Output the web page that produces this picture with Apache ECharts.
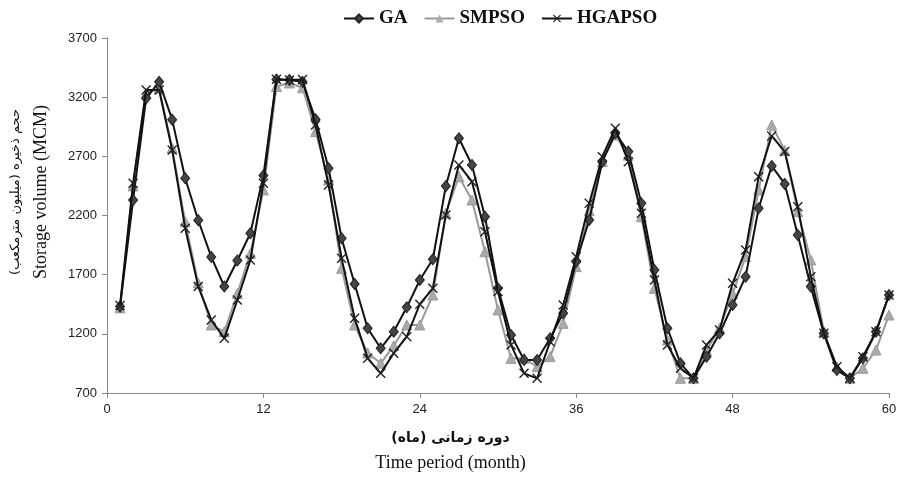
<!DOCTYPE html>
<html><head><meta charset="utf-8">
<script src="https://cdn.jsdelivr.net/npm/echarts@6/dist/echarts.min.js"></script>
<style>html,body{margin:0;padding:0;background:#fff}#c{width:901px;height:479px}</style>
</head><body><div id="c"></div>
<script>
const months = Array.from({length:60},(_,i)=>i+1);
const ga = [1430,2330,3190,3330,3010,2515,2160,1850,1600,1820,2050,2537,3350,3346,3330,3013,2600,2008,1621,1247,1078,1218,1424,1655,1830,2450,2853,2627,2190,1585,1190,979,979,1162,1374,1810,2162,2655,2895,2740,2303,1740,1247,951,824,1007,1204,1444,1683,2261,2619,2467,2036,1599,1204,894,824,993,1218,1528];
const smpso = [1420,2450,3230,3276,2770,2148,1630,1275,1218,1540,1880,2416,3290,3320,3280,2909,2500,1754,1275,1038,951,1100,1275,1275,1528,2220,2528,2331,1894,1402,993,993,922,1007,1289,1768,2240,2655,2880,2710,2190,1585,1148,824,824,1060,1247,1540,1852,2416,2965,2750,2233,1824,1218,922,824,909,1063,1359];
const hgapso = [1440,2472,3261,3260,2754,2092,1599,1317,1162,1486,1824,2472,3352,3346,3350,2965,2458,1839,1331,993,866,1036,1176,1450,1585,2205,2627,2486,2063,1557,1106,866,824,1134,1444,1852,2303,2697,2937,2655,2219,1655,1106,909,824,1106,1233,1627,1909,2528,2872,2740,2275,1683,1204,922,824,1007,1218,1528];
const seriesNames = ['GA','SMPSO','HGAPSO'];
const xTicks = [0,12,24,36,48,60];
const yTicks = [700,1200,1700,2200,2700,3200,3700];

const cross = 'path://M0,1L1,0L5,4L9,0L10,1L6,5L10,9L9,10L5,6L1,10L0,9L4,5Z';
const pair = a => a.map((v,i)=>[months[i],v]);
const chart = echarts.init(document.getElementById('c'));
chart.setOption({
  animation:false,
  legend:{top:4,left:338,itemGap:16,itemWidth:30,itemHeight:10,
    textStyle:{fontFamily:'Liberation Serif',fontSize:19,color:'#111',fontWeight:'bold'},
    data:seriesNames},
  grid:{left:107,right:12,top:38,bottom:86},
  xAxis:{type:'value',min:xTicks[0],max:xTicks[xTicks.length-1],interval:12,
    axisLine:{lineStyle:{color:'#888'}},axisTick:{show:true,length:5,lineStyle:{color:'#888'}},
    splitLine:{show:false},
    axisLabel:{fontFamily:'Liberation Sans Narrow, Liberation Sans',fontSize:13,color:'#222',margin:10,formatter:v=>String(v)}},
  yAxis:{type:'value',min:yTicks[0],max:yTicks[yTicks.length-1],interval:500,
    axisLine:{show:true,lineStyle:{color:'#888'}},axisTick:{show:true,length:5,lineStyle:{color:'#888'}},
    splitLine:{show:false},
    axisLabel:{fontFamily:'Liberation Sans Narrow, Liberation Sans',fontSize:13,color:'#222',margin:10,formatter:v=>String(v)}},
  graphic:[
    {type:'text',left:'center',top:431,style:{text:'دوره زمانی (ماه)',font:'bold 14px "DejaVu Sans"',fill:'#111'}},
    {type:'text',left:'center',top:454,style:{text:'Time period (month)',font:'18px "Liberation Serif"',fill:'#111'}},
    {type:'text',x:41,y:192,rotation:Math.PI/2,style:{text:'Storage volume (MCM)',font:'18px "Liberation Serif"',fill:'#111',align:'center',verticalAlign:'middle'}},
    {type:'text',x:16,y:192,rotation:Math.PI/2,style:{text:'حجم ذخیره (میلیون مترمکعب)',font:'13px "DejaVu Sans"',fill:'#111',align:'center',verticalAlign:'middle'}}
  ],
  series:[
    {name:'GA',type:'line',data:pair(ga),symbol:'diamond',symbolSize:[9,11],
      lineStyle:{color:'#111',width:2},itemStyle:{color:'#444',borderColor:'#222',borderWidth:1},z:3},
    {name:'SMPSO',type:'line',data:pair(smpso),symbol:'triangle',symbolSize:10,
      lineStyle:{color:'#999',width:2},itemStyle:{color:'#aaa',borderColor:'#999'},z:2},
    {name:'HGAPSO',type:'line',data:pair(hgapso),symbol:cross,symbolSize:10,
      lineStyle:{color:'#111',width:2},itemStyle:{color:'#222'},z:4}
  ]
});
</script></body></html>
